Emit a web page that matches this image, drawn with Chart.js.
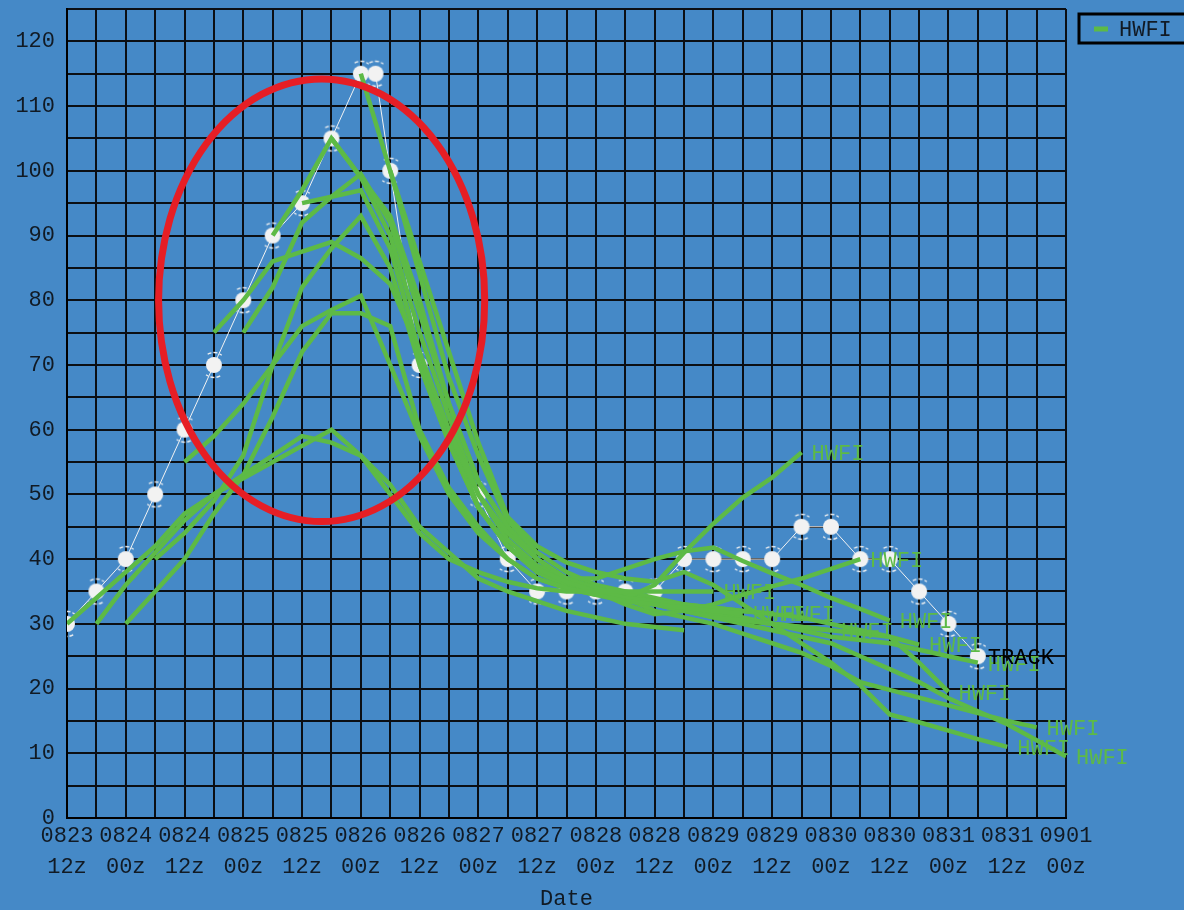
<!DOCTYPE html>
<html>
<head>
<meta charset="utf-8">
<title>HWFI intensity forecasts</title>
<script src="https://cdn.jsdelivr.net/npm/chart.js@4/dist/chart.umd.min.js"></script>
<style>
  html, body { margin: 0; padding: 0; background: #4589c7; }
  #wrap { width: 1184px; height: 910px; }
</style>
</head>
<body>
<div id="wrap"><canvas id="chart" width="1184" height="910"></canvas></div>
<script>
// hours are counted from 0823 12z
const tickDays  = ['0823','0824','0824','0825','0825','0826','0826','0827','0827',
                   '0828','0828','0829','0829','0830','0830','0831','0831','0901'];
const tickHours = ['12z','00z','12z','00z','12z','00z','12z','00z','12z',
                   '00z','12z','00z','12z','00z','12z','00z','12z','00z'];

// best track (kt)
const trackHours = [0, 6, 12, 18, 24, 30, 36, 42, 48, 54, 60, 63, 66, 72, 84, 90, 96,
                    102, 108, 114, 120, 126, 132, 138, 144, 150, 156, 162, 168, 174, 180, 186];
const trackWinds = [30, 35, 40, 50, 60, 70, 80, 90, 95, 105, 115, 115, 100, 70, 50, 40, 35,
                    35, 35, 35, 35, 40, 40, 40, 40, 45, 45, 40, 40, 35, 30, 25];

// HWFI runs, one value every 6 h from the run start
const runStarts = [0, 6, 12, 18, 24, 30, 36, 42, 48, 54, 60, 66, 72, 78];
const run00 = [30, 34, 38, 42, 47, 50, 52.5, 55, 57.5, 60, 56, 51.5, 45, 41, 37, 35, 33.5, 32, 31, 30, 29.5, 29];
const run06 = [30, 36, 41, 46, 50, 53, 56, 59, 58, 56, 50, 44, 40, 38, 36.5, 35.5, 35, 35, 35, 35, 35, 35];
const run12 = [30, 35, 40, 47, 53, 62, 72, 78, 78, 76, 60, 51, 45, 40, 37, 35.5, 34.5, 33.5, 33, 32.5, 32, 31.6];
const run18 = [40, 44, 49, 56, 70, 82, 88, 93, 85, 70, 58, 48, 42, 38.5, 36.5, 35, 34, 33.5, 33, 32.5, 32, 31.6];
const run24 = [55, 59, 64, 70, 76, 78.5, 80.7, 70, 59, 50, 44, 40, 37, 35.5, 34.5, 34, 36, 41, 45.5, 49.5, 52.6, 56.5];
const run30 = [75, 80, 86, 87.5, 89, 86.5, 82.5, 72, 60, 50, 44, 40, 37, 35.5, 34, 33, 32, 31, 30.5, 30, 29.5, 29];
const run36 = [75, 82, 92, 96, 99.5, 92, 78, 64, 52, 45, 40, 37, 35, 33, 31.5, 32, 33, 34.5, 35.8, 37, 38.5, 40];
const run42 = [90, 97, 105, 99, 90, 75, 62, 50, 43, 39, 37, 37, 38.5, 40, 41.2, 41.8, 39.7, 37.8, 36, 34, 32.3, 30.5];
const run48 = [95, 96, 97, 88, 72, 58, 48, 42, 38, 36, 35, 34, 33.5, 33, 32.5, 32, 31.5, 31, 30, 29, 28, 26.8];
const run54 = [105, 99, 93, 80, 64, 52, 45, 40, 37, 35.5, 34.5, 33.5, 32.5, 31.5, 30.5, 30, 29.5, 29, 28.5, 28, 24, 19.5];
const run60 = [115, 100, 84, 68, 56, 46, 41, 38, 36, 35, 34, 33, 32, 31, 30, 29, 28, 27.5, 27, 26, 25, 24];
const run66 = [100, 86, 72, 58, 46.5, 42, 39.5, 38, 37, 36.5, 38, 36, 33, 30, 27, 24, 20.5, 16, 14.8, 13.5, 12.2, 11];
const run72 = [70, 58, 48, 42, 38, 36, 35, 34, 32, 31, 30, 28.5, 27, 25.5, 23.5, 21, 19.8, 18.6, 17.4, 16.2, 15, 14];
const run78 = [60, 48, 42, 38, 36, 35, 34, 33, 32, 31, 30, 29, 28, 27, 25, 23, 21, 18.5, 16.5, 14.5, 12, 9.5];
const runs = [run00, run06, run12, run18, run24, run30, run36, run42, run48, run54, run60, run66, run72, run78];
const runLabelled = [false, true, true, true, true, true, true, true, true, true, true, true, true, true];

// red ring drawn over the rapid intensification period (data units)
const ringCenterHour = 52;
const ringCenterWind = 80;
const ringHalfHours = 33.3;
const ringHalfWind = 34.2;

const GREEN = '#5dba46';
const INK = '#111a24';
const MONO = '"Liberation Mono", "DejaVu Sans Mono", monospace';

function makeStormIcon() {
    const c = document.createElement('canvas');
    c.width = 34;
    c.height = 34;
    const g = c.getContext('2d');
    g.fillStyle = '#f2f2f2';
    g.beginPath();
    g.arc(17, 17, 8, 0, Math.PI * 2);
    g.fill();
    g.strokeStyle = '#f2f2f2';
    g.lineWidth = 1.3;
    g.setLineDash([4, 2]);
    g.beginPath();
    g.arc(17, 17, 12.5, -2.1, -0.9);
    g.stroke();
    g.beginPath();
    g.arc(17, 17, 12.5, 1.05, 2.25);
    g.stroke();
    return c;
}

const datasets = runs.map((vals, i) => ({
    label: 'HWFI',
    data: vals.map((v, k) => ({ x: runStarts[i] + k * 6, y: v })),
    borderColor: GREEN,
    backgroundColor: GREEN,
    borderWidth: 4.5,
    pointRadius: 0,
    tension: 0,
    order: 0,
    endLabel: runLabelled[i] ? 'HWFI' : null,
    endColor: GREEN
}));

datasets.push({
    label: 'TRACK',
    data: trackHours.map((h, k) => ({ x: h, y: trackWinds[k] })),
    borderColor: '#f2f2f2',
    borderWidth: 1,
    pointStyle: makeStormIcon(),
    pointRadius: 8,
    tension: 0,
    order: 1,
    endLabel: 'TRACK',
    endColor: '#000000'
});

const overlay = {
    id: 'overlay',
    afterDatasetsDraw(chart) {
        const { ctx } = chart;
        const x = chart.scales.x, y = chart.scales.y;
        ctx.save();
        ctx.font = '22px ' + MONO;
        ctx.textBaseline = 'middle';
        ctx.textAlign = 'left';
        chart.data.datasets.forEach((ds, i) => {
            if (!ds.endLabel) return;
            const pts = chart.getDatasetMeta(i).data;
            const last = pts[pts.length - 1];
            ctx.fillStyle = ds.endColor;
            ctx.fillText(ds.endLabel, last.x + 10, last.y + 2);
        });

        // red ring
        const cx = x.getPixelForValue(ringCenterHour);
        const cy = y.getPixelForValue(ringCenterWind);
        const rx = x.getPixelForValue(ringCenterHour + ringHalfHours) - cx;
        const ry = cy - y.getPixelForValue(ringCenterWind + ringHalfWind);
        ctx.strokeStyle = '#e61e25';
        ctx.lineWidth = 7;
        ctx.beginPath();
        ctx.ellipse(cx, cy, rx, ry, 0, 0, Math.PI * 2);
        ctx.stroke();
        ctx.restore();
    },
    afterDraw(chart) {
        // legend box in the top right corner
        const { ctx, chartArea } = chart;
        const left = chartArea.right + 13;
        ctx.save();
        ctx.strokeStyle = '#000';
        ctx.lineWidth = 3;
        ctx.strokeRect(left, 14, chart.width - left + 10, 29);
        ctx.strokeStyle = GREEN;
        ctx.lineWidth = 5;
        ctx.beginPath();
        ctx.moveTo(left + 15, 29);
        ctx.lineTo(left + 29, 29);
        ctx.stroke();
        ctx.fillStyle = INK;
        ctx.font = '22px ' + MONO;
        ctx.textBaseline = 'middle';
        ctx.fillText('HWFI', left + 40, 30);
        ctx.restore();
    }
};

function noScalePadding(s) {
    s.paddingTop = 0;
    s.paddingBottom = 0;
    s.paddingLeft = 0;
    s.paddingRight = 0;
}

new Chart(document.getElementById('chart'), {
    type: 'line',
    data: { datasets: datasets },
    plugins: [overlay],
    options: {
        responsive: false,
        animation: false,
        devicePixelRatio: 1,
        layout: { padding: { left: 0, right: 118, top: 8, bottom: 0 } },
        plugins: {
            legend: { display: false },
            tooltip: { enabled: false }
        },
        scales: {
            x: {
                type: 'linear',
                min: 0,
                max: 204,
                afterFit: (s) => { s.height = 92; noScalePadding(s); },
                grid: { color: '#0b0f14', lineWidth: 2, drawTicks: false },
                border: { color: '#000', width: 2 },
                ticks: {
                    stepSize: 6,
                    maxTicksLimit: 100,
                    autoSkip: false,
                    maxRotation: 0,
                    padding: 3,
                    color: INK,
                    font: { family: MONO, size: 22, lineHeight: 1.4 },
                    callback: (v) => v % 12 === 0 ? [tickDays[v / 12], tickHours[v / 12]] : ''
                },
                title: {
                    display: true,
                    text: 'Date',
                    color: INK,
                    font: { family: MONO, size: 22 },
                    padding: { top: 0, bottom: -2 }
                }
            },
            y: {
                min: 0,
                max: 125,
                afterFit: (s) => { s.width = 67; noScalePadding(s); },
                grid: { color: '#0b0f14', lineWidth: 2, drawTicks: false },
                border: { color: '#000', width: 2 },
                ticks: {
                    stepSize: 5,
                    maxTicksLimit: 100,
                    autoSkip: false,
                    padding: 12,
                    color: INK,
                    font: { family: MONO, size: 22 },
                    callback: (v) => v % 10 === 0 ? String(v) : ''
                }
            }
        }
    }
});
</script>
</body>
</html>
